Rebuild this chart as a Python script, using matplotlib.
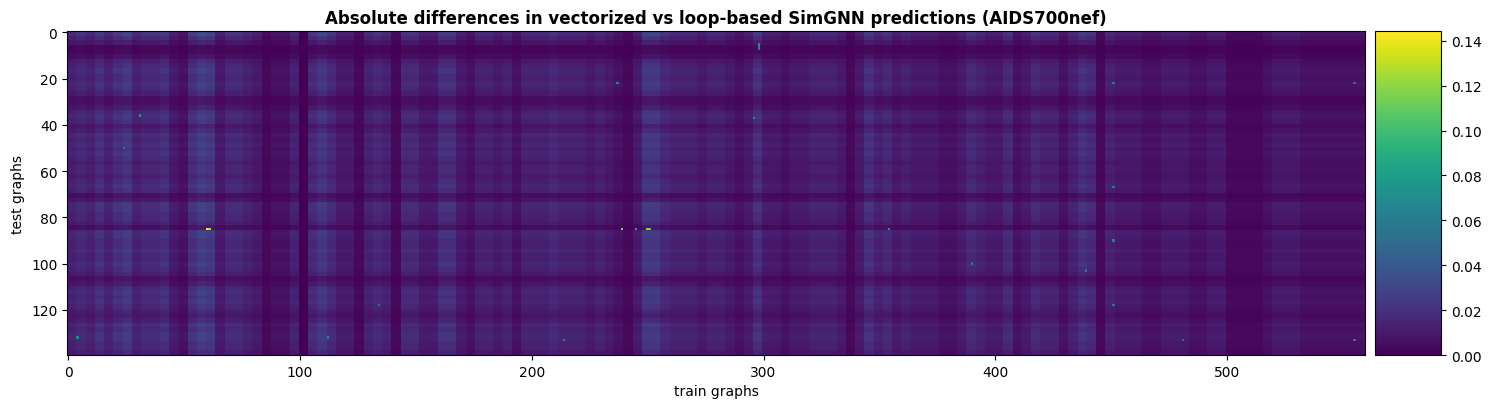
import numpy as np
import matplotlib
matplotlib.use("Agg")
import matplotlib.pyplot as plt

# brightness level (0-9) of the train-graph columns, one digit per 4 columns
col_levels = ("4546467455" "6326873554" "3122405753" "3145415533"
              "6632443424" "4454443432" "1377544434" "4323633233"
              "4443136453" "4333223543" "3523544246" "5143332233"
              "3223311112" "3332222222")
# brightness level (0-9) of the test-graph rows, one digit per 2 rows
row_levels = ("7531124565" "5654223565" "3465656545" "5456523665"
              "5426655655" "6542356565" "4346566554")

# isolated large differences: (test row, train column, value)
hot_rows = [85, 85, 85, 85, 85, 85, 5, 6, 7, 22, 37, 36, 50, 132, 132, 133,
            85, 118, 22, 67, 90, 118, 22, 133, 133, 100, 103]
hot_cols = [60, 61, 239, 245, 250, 251, 298, 298, 298, 237, 296, 31, 24, 4, 112, 214,
            354, 134, 451, 451, 451, 451, 555, 555, 481, 390, 439]
hot_vals = [0.1443, 0.13, 0.115, 0.085, 0.12, 0.11, 0.07, 0.075, 0.06, 0.065, 0.07,
            0.075, 0.055, 0.07, 0.065, 0.07, 0.075, 0.055, 0.06, 0.065, 0.06, 0.055,
            0.055, 0.06, 0.05, 0.055, 0.055]

n_test, n_train = 140, 560
cf = np.repeat(np.array([int(c) for c in col_levels]) / 9.0, 4)[:n_train]
rf = np.repeat(np.array([int(c) for c in row_levels]) / 9.0, 2)[:n_test]
diff = 0.05 * np.outer(rf, cf)
for r, c, v in zip(hot_rows, hot_cols, hot_vals):
    diff[r, c] = v

fig = plt.figure(figsize=(14.9, 4.1), dpi=100)
ax = fig.add_axes([0.045, 0.1317, 0.8711, 0.790])
cax = fig.add_axes([0.9228, 0.1317, 0.0443, 0.790])
im = ax.imshow(diff, aspect="auto", cmap="viridis", interpolation="nearest")
fig.colorbar(im, cax=cax)
ax.set_title("Absolute differences in vectorized vs loop-based SimGNN predictions (AIDS700nef)",
             fontweight="bold", fontsize=12)
ax.set_xlabel("train graphs")
ax.set_ylabel("test graphs")
fig.savefig("out.png", dpi=100)
